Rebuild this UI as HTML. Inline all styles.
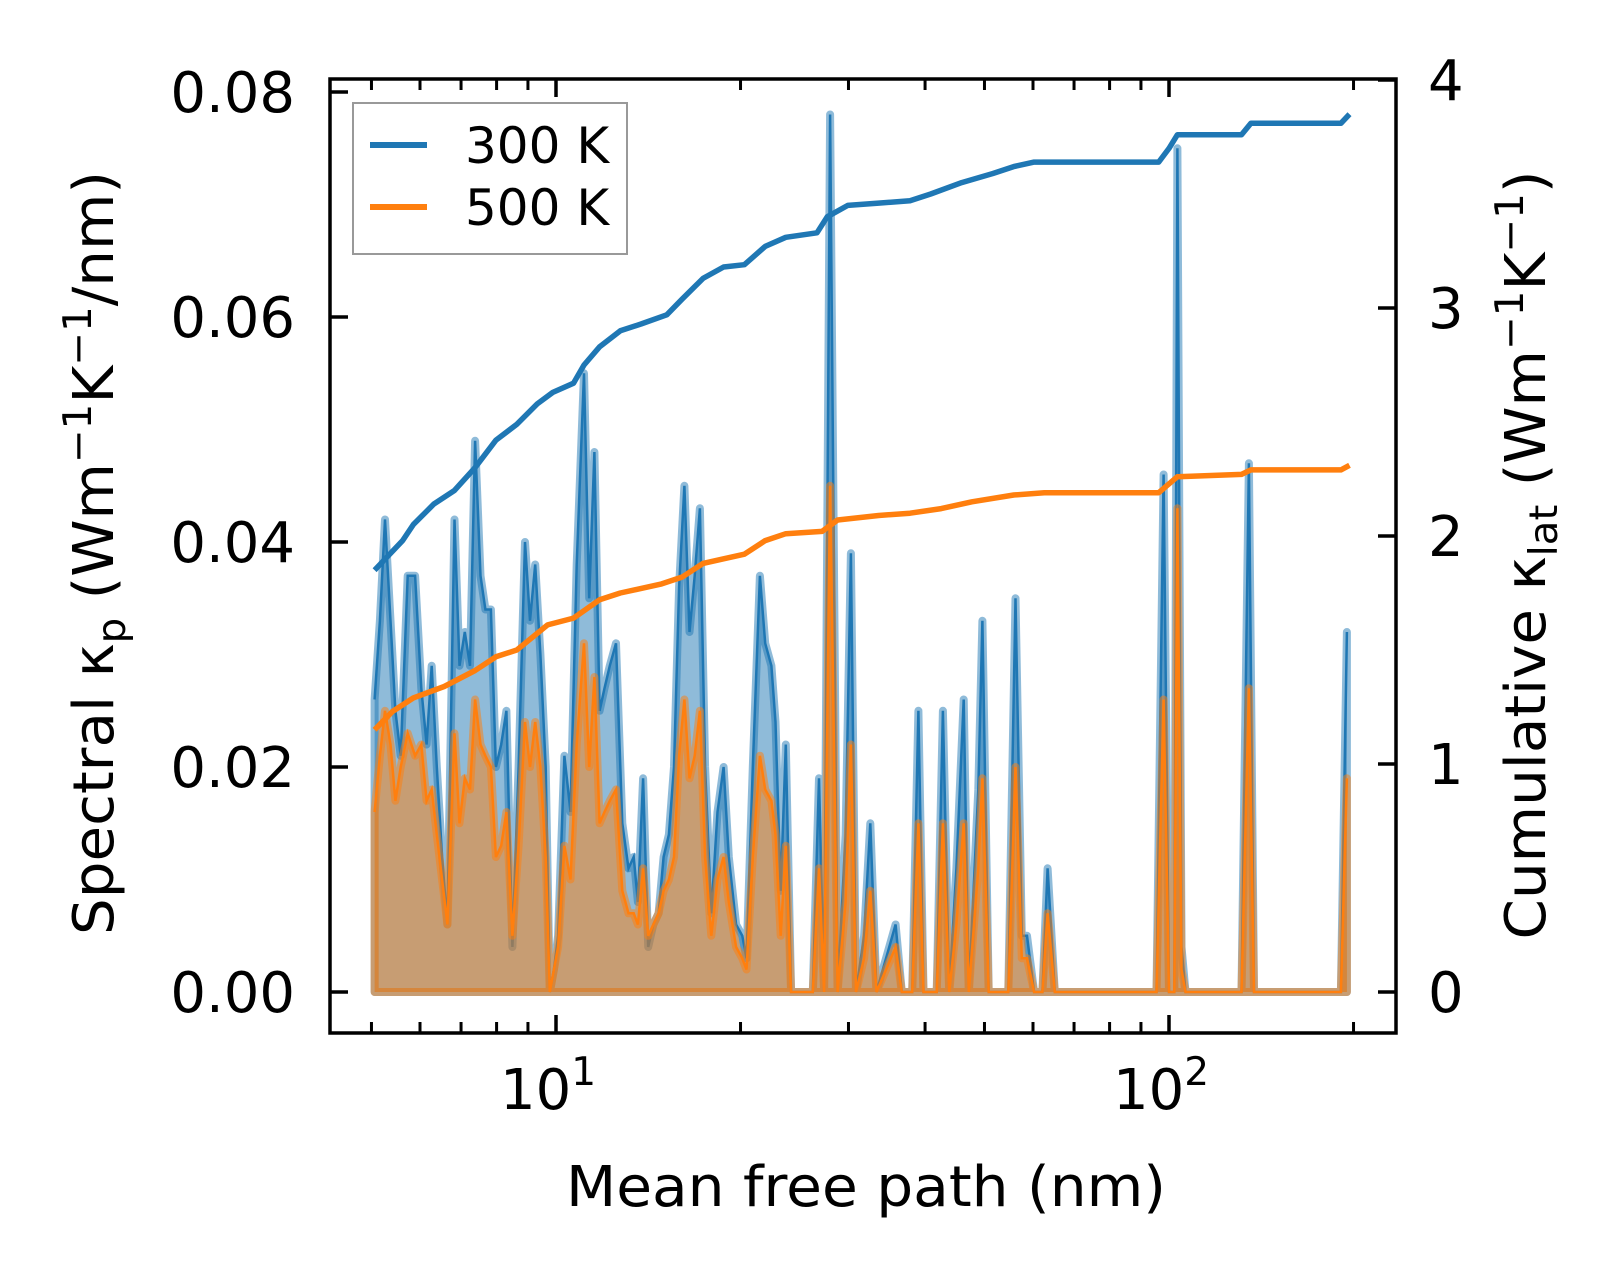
<!DOCTYPE html>
<html><head><meta charset="utf-8"><style>
html,body{margin:0;padding:0;background:#fff;}
svg{display:block;font-family:"DejaVu Sans","Liberation Sans",sans-serif;}
</style></head><body>
<svg id="chart" width="1623" height="1273" viewBox="0 0 1623 1273" xmlns="http://www.w3.org/2000/svg">
<defs><clipPath id="plotclip"><rect x="330" y="80" width="1065" height="952"/></clipPath></defs>
<g id="plot" clip-path="url(#plotclip)"></g>
<g id="axes"></g>
</svg>
<script>
const mfp=[5.06,5.16,5.26,5.37,5.47,5.58,5.73,5.89,6.03,6.15,6.27,6.39,6.52,6.65,6.83,6.96,7.10,7.24,7.38,7.53,7.67,7.83,7.98,8.14,8.30,8.49,8.69,8.90,9.07,9.25,9.43,9.62,9.77,9.92,10.08,10.32,10.56,10.81,11.11,11.33,11.55,11.78,12.00,12.24,12.53,12.83,13.13,13.39,13.60,13.87,14.14,14.41,14.70,14.98,15.28,15.58,15.88,16.20,16.51,16.84,17.17,17.51,17.92,18.34,18.77,19.14,19.67,20.13,20.45,20.94,21.51,21.94,22.46,22.81,23.26,23.71,24.18,26.24,26.86,27.38,28.00,28.80,29.68,30.27,30.86,31.81,32.56,33.33,35.81,36.66,38.11,39.01,39.77,41.78,42.77,43.79,45.00,46.24,47.15,48.85,49.62,50.80,54.69,56.19,57.53,58.66,60.25,62.15,63.37,65.12,95.4,98.0,100.0,102.0,103.2,104.8,106.4,131.3,135.0,137.6,190.7,195.1];
const k300=[0.026,0.033,0.042,0.033,0.025,0.021,0.037,0.037,0.027,0.022,0.029,0.020,0.012,0.006,0.042,0.029,0.032,0.029,0.049,0.037,0.034,0.034,0.020,0.022,0.025,0.004,0.020,0.040,0.033,0.038,0.030,0.020,0,0.002,0.005,0.021,0.016,0.038,0.055,0.035,0.048,0.025,0.027,0.029,0.031,0.015,0.011,0.012,0.008,0.019,0.004,0.006,0.007,0.012,0.014,0.020,0.036,0.045,0.032,0.037,0.043,0.020,0.007,0.016,0.020,0.012,0.006,0.005,0.003,0.020,0.037,0.031,0.029,0.024,0.009,0.022,0,0,0.019,0,0.078,0,0.014,0.039,0,0.005,0.015,0,0.006,0,0,0.025,0,0,0.025,0,0.011,0.026,0,0.018,0.033,0,0,0.035,0.005,0.005,0,0,0.011,0,0,0.046,0,0,0.075,0.004,0,0,0.047,0,0,0.032];
const k500=[0.016,0.021,0.025,0.022,0.017,0.020,0.023,0.021,0.022,0.017,0.018,0.014,0.010,0.006,0.023,0.015,0.019,0.018,0.026,0.022,0.021,0.020,0.012,0.013,0.016,0.005,0.013,0.024,0.020,0.024,0.020,0.012,0,0.002,0.004,0.013,0.010,0.022,0.031,0.020,0.028,0.015,0.016,0.017,0.018,0.009,0.007,0.007,0.006,0.011,0.005,0.006,0.007,0.009,0.010,0.012,0.021,0.026,0.019,0.021,0.025,0.012,0.005,0.010,0.012,0.008,0.004,0.003,0.002,0.012,0.021,0.018,0.017,0.014,0.005,0.013,0,0,0.011,0,0.045,0,0.008,0.022,0,0.003,0.009,0,0.004,0,0,0.015,0,0,0.015,0,0.006,0.015,0,0.011,0.019,0,0,0.020,0.003,0.003,0,0,0.007,0,0,0.026,0,0,0.043,0.002,0,0,0.027,0,0,0.019];
const cum300X=[5.06,5.62,5.85,6.32,6.83,7.38,7.98,8.63,9.32,9.88,10.68,11.11,11.78,12.73,13.76,15.16,16.07,17.37,18.77,20.29,21.94,23.71,26.65,27.70,29.92,33.6,37.8,40.85,45.9,51.6,55.8,60.25,96.2,100,103.2,131.3,136,190.7,197];
const cum300Y=[1.85,1.98,2.05,2.14,2.20,2.30,2.42,2.49,2.58,2.63,2.67,2.75,2.83,2.90,2.93,2.97,3.04,3.13,3.18,3.19,3.27,3.31,3.33,3.40,3.45,3.46,3.47,3.50,3.55,3.59,3.62,3.64,3.64,3.70,3.76,3.76,3.81,3.81,3.85];
const cum500X=[5.06,5.41,5.85,6.57,7.38,7.98,8.63,9.69,10.68,11.78,12.73,14.87,16.07,17.37,18.77,20.29,21.94,23.71,27.17,28.80,33.6,37.8,42.5,47.7,55.8,62.6,96.2,103.2,131.3,136,190.7,197];
const cum500Y=[1.15,1.23,1.29,1.34,1.41,1.47,1.50,1.61,1.64,1.72,1.75,1.79,1.82,1.88,1.90,1.92,1.98,2.01,2.02,2.07,2.09,2.10,2.12,2.15,2.18,2.19,2.19,2.26,2.27,2.29,2.29,2.31];
const leftTicks=[0,0.02,0.04,0.06,0.08];
const leftTickLabels=["0.00","0.02","0.04","0.06","0.08"];
const rightTicks=[0,1,2,3,4];
const rightTickLabels=["0","1","2","3","4"];
const xMajor=[10,100];
const xMajorExp=["1","2"];
const xMinor=[5,6,7,8,9,20,30,40,50,60,70,80,90,200];

const NS="http://www.w3.org/2000/svg";
const L=330,R=1396,T=79,B=1033;
const X10=556,DEC=613;
function sx(v){return X10+(Math.log10(v)-1)*DEC;}
function syL(v){return 992-v*11250;}
function syR(v){return 992-v*228;}
function mk(tag,attrs,parent){const e=document.createElementNS(NS,tag);for(const k in attrs)e.setAttribute(k,attrs[k]);parent.appendChild(e);return e;}
const plot=document.getElementById('plot'),axes=document.getElementById('axes');

function spectral(vals,rgb,name){
  let d='M'+sx(mfp[0])+','+syL(0);
  for(let i=0;i<mfp.length;i++)d+=' L'+sx(mfp[i]).toFixed(1)+','+syL(vals[i]).toFixed(1);
  d+=' L'+sx(mfp[mfp.length-1]).toFixed(1)+','+syL(0)+' Z';
  const f=mk('path',{d:d,fill:'rgba('+rgb+',0.5)',stroke:'rgba('+rgb+',0.5)','stroke-width':8,'stroke-linejoin':'round'},plot);
  
  
  let p='';
  for(let i=0;i<mfp.length;i++)p+=(i?' L':'M')+sx(mfp[i]).toFixed(1)+','+syL(vals[i]).toFixed(1);
  const l=mk('path',{d:p,fill:'none',stroke:'rgb('+rgb+')','stroke-width':2.5},plot);
  
  
}
spectral(k300,'31,119,180','spectral-300k');
spectral(k500,'255,127,14','spectral-500k');

function cum(xs,ys,col,name){
  let p='';
  for(let i=0;i<xs.length;i++)p+=(i?' L':'M')+sx(xs[i]).toFixed(1)+','+syR(ys[i]).toFixed(1);
  const l=mk('path',{d:p,fill:'none',stroke:col,'stroke-width':5.5,'stroke-linejoin':'round'},plot);
  
  
}
cum(cum300X,cum300Y,'#1f77b4','cumulative-300k');
cum(cum500X,cum500Y,'#ff7f0e','cumulative-500k');

const sp=mk('rect',{x:L,y:T,width:R-L,height:B-T,fill:'none',stroke:'#000','stroke-width':3.5},axes);



leftTicks.forEach((v,i)=>{
  const y=syL(v);
  mk('line',{x1:L,x2:L+18,y1:y,y2:y,stroke:'#000','stroke-width':3.5},axes);
  const t=mk('text',{x:295,y:y+20,'text-anchor':'end','font-size':56,fill:'#000'},axes);
  t.textContent=leftTickLabels[i];
  
  
});
rightTicks.forEach((v,i)=>{
  const y=syR(v);
  mk('line',{x1:R-18,x2:R,y1:y,y2:y,stroke:'#000','stroke-width':3.5},axes);
  const t=mk('text',{x:1428,y:y+20,'text-anchor':'start','font-size':56,fill:'#000'},axes);
  t.textContent=rightTickLabels[i];
  
  
});
xMajor.forEach((v,i)=>{
  const x=sx(v);
  mk('line',{x1:x,x2:x,y1:B,y2:B-18,stroke:'#000','stroke-width':3.5},axes);
  mk('line',{x1:x,x2:x,y1:T,y2:T+18,stroke:'#000','stroke-width':3.5},axes);
  const t=mk('text',{x:x-8,y:1109,'text-anchor':'middle','font-size':56,fill:'#000'},axes);
  t.innerHTML='10<tspan font-size="39" dy="-24">'+xMajorExp[i]+'</tspan>';
  
  
});
xMinor.forEach(v=>{
  const x=sx(v);
  mk('line',{x1:x,x2:x,y1:B,y2:B-11,stroke:'#000','stroke-width':3},axes);
  mk('line',{x1:x,x2:x,y1:T,y2:T+11,stroke:'#000','stroke-width':3},axes);
});
</script>
<svg style="position:absolute;left:0;top:0" width="1623" height="1273" viewBox="0 0 1623 1273" xmlns="http://www.w3.org/2000/svg" font-family="DejaVu Sans, Liberation Sans, sans-serif">
<text x="866" y="1206" text-anchor="middle" font-size="56" textLength="600" lengthAdjust="spacingAndGlyphs">Mean free path (nm)</text>
<text transform="translate(113,553) rotate(-90)" text-anchor="middle" font-size="56" textLength="764" lengthAdjust="spacingAndGlyphs">Spectral κ<tspan font-size="39" dy="12">p</tspan><tspan dy="-12"> (Wm</tspan><tspan font-size="39" dy="-22">−1</tspan><tspan dy="22">K</tspan><tspan font-size="39" dy="-22">−1</tspan><tspan dy="22">/nm)</tspan></text>
<text transform="translate(1545,555) rotate(-90)" text-anchor="middle" font-size="56" textLength="769" lengthAdjust="spacingAndGlyphs">Cumulative κ<tspan font-size="39" dy="12">lat</tspan><tspan dy="-12"> (Wm</tspan><tspan font-size="39" dy="-22">−1</tspan><tspan dy="22">K</tspan><tspan font-size="39" dy="-22">−1</tspan><tspan dy="22">)</tspan></text>
<g>
<rect x="353" y="103" width="274" height="151" fill="rgba(255,255,255,0.8)" stroke="#999" stroke-width="2"/>
<line x1="370" x2="427" y1="145" y2="145" stroke="#1f77b4" stroke-width="6"/>
<text x="465" y="163" font-size="50">300 K</text>
<line x1="370" x2="427" y1="207" y2="207" stroke="#ff7f0e" stroke-width="6"/>
<text x="465" y="225" font-size="50">500 K</text>
</g>
</svg>
</body></html>
